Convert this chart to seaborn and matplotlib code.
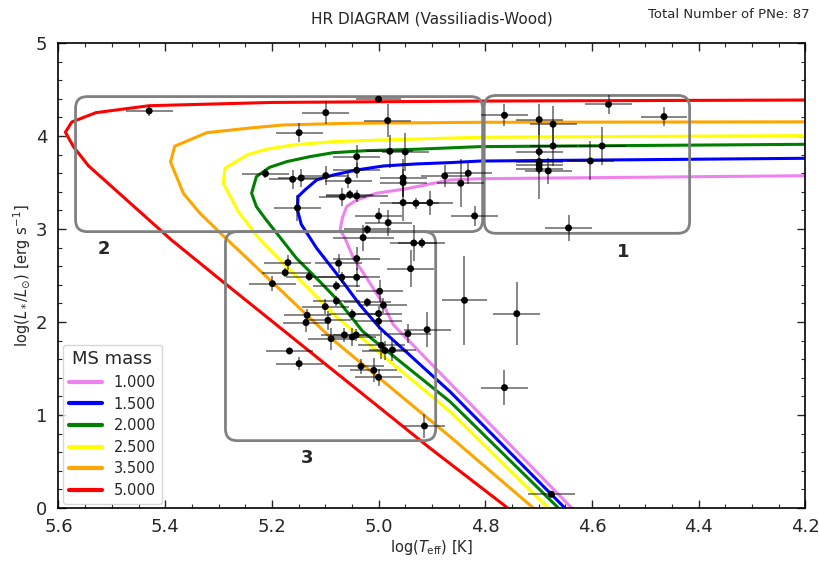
import numpy as np
import pandas as pd
import seaborn as sns
import matplotlib
matplotlib.use("Agg")
import matplotlib.pyplot as plt
from matplotlib.patches import FancyBboxPatch
from matplotlib.ticker import MultipleLocator

sns.set_style("ticks")
plt.rcParams["font.family"] = ["DejaVu Sans"]

# observed PNe: log Teff, log L and their errors
teff = [5.430, 5.099, 5.000, 4.983, 5.149, 4.979, 4.950, 5.041, 5.212, 5.041,
        5.161, 5.145, 5.099, 5.057, 4.954, 4.954, 4.876, 5.068, 5.054, 5.041,
        5.152, 4.954, 4.930, 4.904, 5.000, 4.982, 5.021, 4.832, 4.846, 4.820,
        4.764, 4.569, 4.465, 4.699, 4.673, 4.673, 4.699, 4.699, 4.699, 4.699,
        4.682, 4.603, 4.581, 4.644, 5.029, 4.934, 4.919, 4.940, 5.041, 5.075,
        5.069, 5.041, 5.079, 4.998, 4.991, 5.021, 5.079, 5.100, 5.049, 5.000,
        5.000, 5.095, 4.945, 4.909, 5.064, 5.049, 5.042, 5.089, 4.995, 4.988,
        4.974, 5.170, 5.175, 5.130, 5.199, 5.134, 5.136, 5.167, 5.149, 5.033,
        5.009, 5.000, 4.914, 4.764, 4.676, 4.839, 4.741]
lum = [4.269, 4.250, 4.395, 4.165, 4.035, 3.835, 3.828, 3.777, 3.595, 3.631,
       3.534, 3.548, 3.573, 3.520, 3.548, 3.498, 3.570, 3.344, 3.369, 3.355,
       3.226, 3.283, 3.276, 3.283, 3.140, 3.068, 2.995, 3.599, 3.491, 3.140,
       4.222, 4.340, 4.208, 4.175, 4.126, 3.892, 3.831, 3.724, 3.688, 3.645,
       3.624, 3.731, 3.892, 3.011, 2.907, 2.849, 2.849, 2.573, 2.681, 2.631,
       2.480, 2.480, 2.387, 2.330, 2.179, 2.212, 2.226, 2.165, 2.083, 2.090,
       2.007, 2.018, 1.874, 1.917, 1.860, 1.839, 1.860, 1.820, 1.749, 1.692,
       1.699, 2.638, 2.530, 2.487, 2.412, 2.072, 1.993, 1.688, 1.552, 1.523,
       1.480, 1.405, 0.882, 1.294, 0.147, 2.233, 2.089]
teff_err = [0.044, 0.044, 0.042, 0.044, 0.044, 0.044, 0.044, 0.044, 0.044, 0.044,
            0.044, 0.044, 0.044, 0.044, 0.044, 0.044, 0.044, 0.044, 0.044, 0.058,
            0.044, 0.044, 0.044, 0.044, 0.044, 0.044, 0.044, 0.044, 0.044, 0.044,
            0.044, 0.044, 0.044, 0.044, 0.044, 0.044, 0.044, 0.044, 0.044, 0.044,
            0.044, 0.044, 0.044, 0.044, 0.057, 0.044, 0.044, 0.044, 0.044, 0.044,
            0.044, 0.044, 0.044, 0.044, 0.044, 0.044, 0.044, 0.044, 0.044, 0.044,
            0.044, 0.044, 0.044, 0.044, 0.044, 0.044, 0.044, 0.044, 0.044, 0.044,
            0.044, 0.044, 0.044, 0.044, 0.044, 0.044, 0.044, 0.044, 0.044, 0.044,
            0.044, 0.044, 0.038, 0.044, 0.044, 0.043, 0.044]
lum_err = [0.06, 0.125, 0.03, 0.18, 0.10, 0.18, 0.20, 0.125, 0.05, 0.08,
           0.10, 0.10, 0.10, 0.08, 0.20, 0.15, 0.12, 0.10, 0.05, 0.06,
           0.14, 0.20, 0.06, 0.13, 0.08, 0.14, 0.05, 0.12, 0.26, 0.11,
           0.12, 0.10, 0.10, 0.17, 0.20, 0.22, 0.05, 0.40, 0.05, 0.05,
           0.14, 0.21, 0.20, 0.14, 0.14, 0.19, 0.05, 0.20, 0.12, 0.10,
           0.06, 0.10, 0.05, 0.12, 0.08, 0.05, 0.05, 0.08, 0.06, 0.08,
           0.08, 0.10, 0.10, 0.19, 0.08, 0.10, 0.06, 0.12, 0.15, 0.10,
           0.12, 0.08, 0.05, 0.05, 0.08, 0.07, 0.10, 0.03, 0.07, 0.08,
           0.13, 0.09, 0.125, 0.19, 0.03, 0.48, 0.34]

# Vassiliadis-Wood post-AGB tracks (log Teff, log L)
masses = ["1.000", "1.500", "2.000", "2.500", "3.500", "5.000"]
colors = ["violet", "blue", "green", "yellow", "orange", "red"]
trk_100_t = [4.15, 4.81, 4.866, 4.947, 5.004, 5.041, 5.060, 5.068, 5.072, 5.063, 5.047, 5.022, 4.994, 4.972, 4.866, 4.638]
trk_100_l = [3.575, 3.54, 3.527, 3.433, 3.384, 3.312, 3.240, 3.115, 2.990, 2.900, 2.685, 2.470, 2.218, 1.968, 1.341, 0.0]
trk_150_t = [4.15, 4.81, 4.866, 4.929, 4.991, 5.041, 5.085, 5.116, 5.138, 5.151, 5.152, 5.145, 5.116, 5.072, 5.035, 4.997, 4.866, 4.651]
trk_150_l = [3.762, 3.73, 3.713, 3.699, 3.677, 3.634, 3.580, 3.527, 3.419, 3.347, 3.204, 3.050, 2.792, 2.470, 2.183, 1.932, 1.250, 0.0]
trk_200_t = [4.15, 4.81, 4.929, 5.022, 5.085, 5.129, 5.172, 5.204, 5.229, 5.238, 5.229, 5.213, 5.154, 5.110, 5.074, 5.030, 4.866, 4.663]
trk_200_l = [3.912, 3.885, 3.857, 3.842, 3.820, 3.777, 3.724, 3.663, 3.563, 3.384, 3.240, 3.115, 2.685, 2.433, 2.218, 1.900, 1.143, 0.0]
trk_250_t = [4.15, 4.81, 4.991, 5.085, 5.160, 5.210, 5.245, 5.288, 5.291, 5.263, 5.222, 5.076, 4.866, 4.682]
trk_250_l = [4.005, 3.986, 3.957, 3.939, 3.903, 3.857, 3.800, 3.653, 3.490, 3.186, 2.882, 2.040, 1.035, 0.0]
trk_350_t = [4.15, 4.80, 5.054, 5.179, 5.241, 5.322, 5.382, 5.390, 5.366, 5.335, 5.290, 5.085, 4.866, 4.710]
trk_350_l = [4.152, 4.147, 4.136, 4.118, 4.085, 4.035, 3.890, 3.720, 3.384, 3.170, 2.920, 1.806, 0.767, 0.0]
trk_500_t = [4.15, 4.80, 5.200, 5.430, 5.530, 5.575, 5.587, 5.572, 5.544, 5.388, 5.300, 4.904, 4.758]
trk_500_l = [4.387, 4.375, 4.360, 4.325, 4.250, 4.150, 4.040, 3.885, 3.680, 2.880, 2.470, 0.645, 0.0]

tracks = pd.concat([
    pd.DataFrame({"teff": t, "lum": l, "mass": m})
    for t, l, m in [(trk_100_t, trk_100_l, "1.000"), (trk_150_t, trk_150_l, "1.500"),
                    (trk_200_t, trk_200_l, "2.000"), (trk_250_t, trk_250_l, "2.500"),
                    (trk_350_t, trk_350_l, "3.500"), (trk_500_t, trk_500_l, "5.000")]
], ignore_index=True)

# regions 1-3: (x0, x1, y0, y1)
boxes = {"1": (4.802, 4.417, 2.953, 4.435),
         "2": (5.568, 4.805, 2.971, 4.423),
         "3": (5.287, 4.893, 0.724, 2.971)}
box_labels = {"1": (4.542, 2.753), "2": (5.515, 2.785), "3": (5.134, 0.538)}

fig = plt.figure(figsize=(8.19, 5.61), dpi=100)
ax = fig.add_axes([0.0714, 0.0945, 0.912, 0.829])

sns.lineplot(data=tracks, x="teff", y="lum", hue="mass", hue_order=masses,
             palette=dict(zip(masses, colors)), sort=False, estimator=None,
             lw=2.2, ax=ax)

ax.errorbar(teff, lum, xerr=teff_err, yerr=lum_err, fmt="none",
            ecolor="black", elinewidth=1.1, alpha=0.6, zorder=3)
sns.scatterplot(x=teff, y=lum, color="black", s=25, edgecolor="none",
                zorder=4, ax=ax, legend=False)

aspect = (1 / 93) / (1 / 533.5)
for k, (x0, x1, y0, y1) in boxes.items():
    ax.add_patch(FancyBboxPatch((x1, y0), x0 - x1, y1 - y0,
                                boxstyle="round,pad=0,rounding_size=0.022",
                                mutation_aspect=aspect, fc="none",
                                ec="grey", lw=2, zorder=2))
    bx, by = box_labels[k]
    ax.text(bx, by, k, fontsize=13, fontweight="bold", ha="center", va="center")

ax.set_xlim(5.6, 4.2)
ax.set_ylim(0, 5)
ax.xaxis.set_major_locator(MultipleLocator(0.2))
ax.xaxis.set_minor_locator(MultipleLocator(0.05))
ax.yaxis.set_major_locator(MultipleLocator(1))
ax.yaxis.set_minor_locator(MultipleLocator(0.2))
ax.tick_params(which="both", direction="in", top=True, right=True, labelsize=13)
ax.tick_params(which="major", length=6, width=1)
ax.tick_params(axis="x", which="major", pad=7)
ax.tick_params(axis="y", which="major", pad=8)
ax.tick_params(which="minor", length=3, width=0.8)
for s in ax.spines.values():
    s.set_linewidth(1.2)
    s.set_color("black")

ax.set_xlabel(r"log($T_{\rm eff}$) [K]", fontsize=10.5, labelpad=2)
ax.set_ylabel(r"log($L_*/L_{\odot}$) [erg s$^{-1}$]", fontsize=10.5, labelpad=2)
ax.set_title("HR DIAGRAM (Vassiliadis-Wood)", fontsize=11, pad=14)
fig.text(0.989, 0.975, "Total Number of PNe: 87", fontsize=9.5, ha="right", va="center")

handles, labels = ax.get_legend_handles_labels()
leg = ax.legend(handles, labels, title="MS mass", loc="lower left",
                fontsize=10.5, title_fontsize=13, handlelength=2.3,
                borderaxespad=0.3, labelspacing=0.45)
for h in leg.legend_handles:
    h.set_linewidth(3)

fig.savefig("out.png", dpi=100)
